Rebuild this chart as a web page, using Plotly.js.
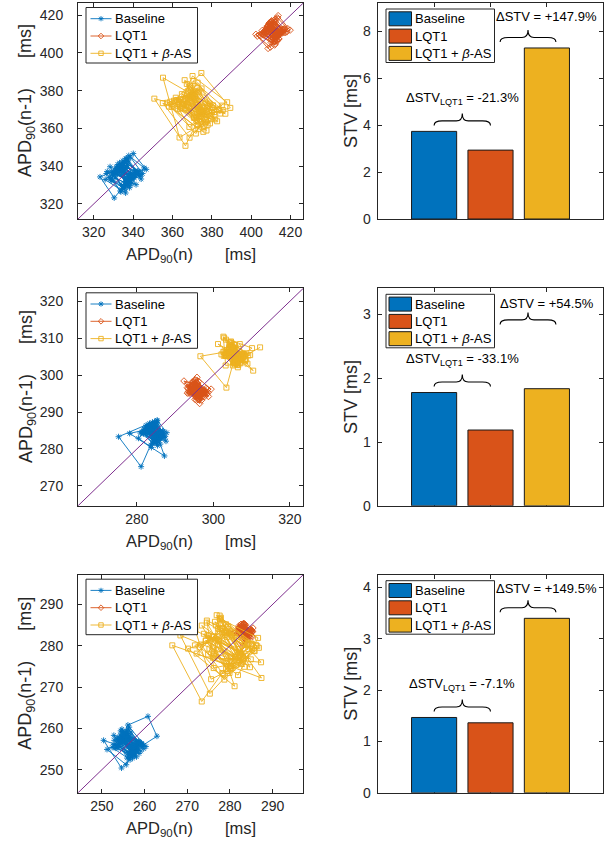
<!DOCTYPE html>
<html>
<head>
<meta charset="utf-8">
<script src="https://cdn.plot.ly/plotly-3.0.1.min.js"></script>
<style>html,body{margin:0;padding:0;background:#fff;}#chart{width:613px;height:849px;}</style>
</head>
<body>
<div id="chart"></div>
<script>
// ---------------- DATA ----------------
const seriesNames = ['Baseline', 'LQT1', 'LQT1 + <i>β</i>-AS'];
const barCategories = [1, 2, 3];

// APD90 of consecutive beats (ms) — Poincaré plots use (APD(n), APD(n-1))
const apdTopBaseline = [335.2, 338.7, 331.4, 336.9, 341.8, 333.1, 328.6, 338.2, 334.7, 343.9, 336.3, 329.8, 334.1, 340.4, 337.2, 326.9, 333.5, 339.1, 345.6, 337.8, 331.7, 336.4, 341.2, 333.9, 327.8, 335.6, 342.7, 337.1, 330.9, 339.4, 334.3, 323.2, 330.4, 336.1, 344.8, 338.6, 332.8, 337.5, 340.9, 332.2, 328.9, 335.8, 338.3, 346.7, 340.1, 333.6, 330.7, 337.3, 342.9, 334.8, 329.6, 338.4, 332.9, 325.8, 336.2, 339.8, 333.7, 339.2, 331.8, 336.7, 334.9,
  338.9, 332.4, 336.8, 330.2, 341.5, 335.3, 338.1, 333.2, 344.1, 336.6, 331.1, 337.9, 334.2, 339.7, 328.3, 334.6, 337.4, 342.3, 335.7, 332.1, 338.8, 336.1, 326.4, 333.8, 340.6, 336.9, 334.1, 339.6, 331.5, 335.9, 343.2, 337.6, 333.1, 336.4, 329.2, 335.1, 340.2, 334.5, 337.8, 332.6];
const apdTopLQT1 = [411.3, 413.8, 408.2, 412.6, 416.1, 409.7, 406.9, 413.2, 410.8, 417.4, 411.9, 405.6, 410.2, 414.7, 408.9, 403.1, 409.8, 412.9, 418.6, 413.4, 407.7, 411.1, 415.9, 409.2, 404.8, 412.3, 416.8, 410.6, 407.4, 414.1, 409.9, 402.4, 408.6, 412.1, 419.8, 413.7, 408.1, 410.9, 415.2, 409.5, 406.2, 411.8, 414.3, 408.7, 412.8, 417.1, 410.4, 406.8, 410.1, 414.6, 411.7, 407.9, 411.4, 415.6, 409.1, 413.1, 410.3, 405.9, 412.2, 410.7, 413.5,
  409.4, 414.2, 411.1, 407.3, 412.7, 416.3, 410.2, 413.6, 408.4, 411.5, 415.1, 409.6, 404.2, 411.9, 414.9, 410.1, 412.4, 407.6, 413.9, 411.2, 418.1, 412.3, 409.3, 410.8, 414.4, 408.3, 412.9, 411.4, 406.4, 413.2, 410.6, 415.8, 411.6, 409.1, 413.3, 410.9, 416.7, 412.1, 408.6, 411.8];
const apdTopBetaAS = [371.8, 364.9, 379.6, 367.7, 374.2, 358.9, 377.3, 369.8, 385.6, 366.2, 373.4, 355.1, 368.7, 381.2, 374.8, 361.9, 377.9, 370.6, 363.8, 382.7, 368.9, 375.8, 350.8, 366.6, 373.9, 387.8, 370.2, 362.7, 379.1, 371.6, 358.2, 375.7, 367.9, 384.3, 372.8, 365.6, 370.9, 389.4, 374.7, 360.8, 368.6, 380.1, 373.6, 357.3, 371.9, 378.2, 364.8, 381.7, 369.6, 376.3, 361.7, 372.7, 367.8, 386.9, 355.2, 363.6, 377.1, 368.8, 373.8, 365.7, 371.2,
  377.6, 366.1, 372.3, 380.6, 369.2, 375.1, 362.4, 374.4, 370.1, 383.6, 367.3, 376.8, 371.4, 359.6, 373.2, 378.9, 368.2, 375.4, 364.1, 372.1, 385.1, 370.7, 366.8, 379.4, 373.1, 361.2, 376.1, 369.4, 374.9, 367.1, 381.3, 372.6, 365.3, 378.4, 370.3, 374.1, 363.2, 376.9, 371.5, 368.3];

const apdMidBaseline = [284.1, 285.9, 282.3, 285.2, 283.4, 286.8, 284.3, 281.6, 285.1, 283.2, 286.2, 284.6, 282.1, 287.6, 285.3, 282.9, 280.4, 283.8, 286.3, 283.1, 285.4, 281.9, 284.7, 286.9, 283.3, 275.2, 281.1, 283.6, 285.2, 284.2, 286.4, 282.4, 284.8, 283.1, 287.1, 285.2, 282.2, 284.5, 281.3, 286.1, 283.7, 285.6, 284.2, 278.1, 287.2, 284.1, 282.8, 286.2, 285.3, 281.9, 284.4, 286.6, 283.2, 285.1, 284.3, 280.9, 285.4, 283.3, 284.6, 282.7,
  285.7, 283.1, 286.5, 284.2, 282.6, 285.4, 283.8, 286.9, 284.1, 281.7, 285.2, 283.4, 287.4, 284.6, 282.3, 285.8, 283.6, 284.9, 286.1, 282.9, 284.3, 285.6, 283.2, 286.4, 284.7, 281.4, 284.1, 285.9, 283.3, 284.8, 286.7, 283.9, 285.1, 282.5, 284.4, 287.8, 285.3, 283.7, 284.9, 283.5];
const apdMidLQT1 = [295.4, 296.8, 294.1, 296.2, 295.1, 297.9, 294.6, 296.3, 293.4, 295.2, 297.1, 295.8, 294.2, 298.7, 295.3, 296.6, 293.2, 295.6, 297.3, 294.4, 296.1, 298.4, 292.3, 296.4, 298.1, 295.5, 293.9, 296.9, 295.1, 293.6, 296.2, 299.4, 295.7, 297.2, 294.3, 296.5, 294.9, 298.3, 296.1, 294.2, 295.3, 297.4, 293.3, 296.3, 295.4, 294.1, 297.6, 295.9, 294.8, 298.2, 294.5, 296.4, 295.1, 297.3, 293.8, 295.6, 296.7, 293.7, 296.1, 295.2,
  296.9, 294.3, 295.8, 297.5, 294.7, 296.1, 295.3, 298.6, 295.1, 293.9, 296.4, 295.2, 297.1, 294.6, 295.9, 296.8, 294.2, 295.4, 297.8, 295.6, 293.5, 296.3, 294.9, 296.6, 295.4, 298.1, 294.8, 296.2, 295.1, 293.2, 296.9, 295.5, 294.4, 297.2, 295.8, 296.4, 294.5, 295.7, 297.6, 295.3];
const apdMidBetaAS = [305.2, 303.4, 306.9, 304.1, 306.3, 302.6, 305.1, 308.2, 304.3, 306.1, 303.2, 305.4, 307.3, 310.1, 302.8, 306.2, 303.6, 305.3, 308.1, 305.6, 302.1, 306.4, 304.2, 307.1, 305.3, 303.1, 308.9, 304.4, 306.6, 305.1, 296.6, 303.4, 305.2, 307.6, 304.1, 308.4, 306.9, 305.2, 303.3, 306.2, 304.3, 308.4, 301.2, 310.4, 302.6, 303.2, 307.1, 304.2, 305.4, 309.6, 303.3, 306.1, 305.2, 304.4, 307.2, 305.3, 303.1, 306.3, 304.1,
  306.2, 303.8, 305.7, 307.9, 304.6, 306.8, 303.5, 305.9, 308.6, 304.8, 306.4, 302.9, 305.6, 307.3, 304.2, 306.9, 305.1, 303.7, 308.3, 305.4, 304.1, 306.7, 305.3, 309.1, 304.6, 306.1, 303.4, 305.8, 307.7, 304.9, 306.3, 305.2, 302.7, 306.5, 304.7, 307.4, 305.6, 303.9, 306.6, 304.8, 307.5, 312.2];

const apdBotBaseline = [256.2, 258.1, 254.8, 257.3, 253.9, 258.7, 256.1, 252.8, 257.2, 255.1, 258.3, 255.9, 259.8, 254.7, 257.4, 253.6, 256.3, 259.1, 256.8, 254.9, 251.2, 255.7, 258.2, 254.6, 257.1, 252.9, 256.4, 259.3, 255.8, 253.7, 257.2, 254.9, 258.1, 262.9, 260.8, 256.1, 253.8, 257.3, 255.6, 259.2, 254.7, 257.1, 250.4, 254.6, 258.2, 255.9, 253.4, 257.3, 255.1, 259.8, 256.2, 258.3, 252.8, 255.9, 257.1, 254.8, 258.2, 255.7, 253.9, 256.8,
  255.3, 257.8, 254.1, 256.9, 258.6, 255.2, 253.3, 257.6, 256.2, 259.4, 254.4, 256.7, 258.9, 255.4, 252.4, 256.6, 258.4, 254.3, 257.9, 255.6, 260.3, 256.4, 254.2, 257.7, 255.3, 253.1, 258.1, 256.3, 254.5, 259.1, 255.8, 257.4, 253.6, 256.5, 258.8, 255.1, 257.2, 254.4, 256.9, 255.5];
const apdBotLQT1 = [283.1, 284.2, 282.4, 283.6, 284.9, 282.2, 283.9, 283.2, 281.4, 284.1, 283.3, 285.2, 282.6, 283.4, 284.3, 282.1, 283.5, 285.1, 283.2, 282.3, 284.4, 283.1, 280.9, 283.6, 284.5, 282.2, 285.3, 283.4, 284.1, 282.5, 283.3, 284.6, 283.1, 279.8, 282.9, 284.2, 282.4, 285.1, 283.6, 284.3, 282.1, 283.2, 284.4, 283.3, 282.2, 284.3, 285.4, 283.2, 281.9, 283.4,
  284.1, 282.7, 283.8, 285.1, 282.9, 284.4, 283.1, 281.8, 283.9, 284.7, 282.6, 283.5, 285.3, 283.2, 282.4, 284.3, 283.6, 284.9, 282.8, 283.7, 284.2, 282.3, 283.8, 285.0, 283.4, 282.1, 284.5, 283.3, 284.0, 282.9];
const apdBotBetaAS = [279.2, 282.1, 276.3, 280.4, 284.1, 277.2, 281.3, 274.4, 279.1, 285.2, 278.3, 282.4, 275.1, 280.2, 286.1, 274.6, 276.2, 283.1, 280.3, 273.2, 278.4, 282.2, 277.1, 276.0, 287.3, 277.6, 276.3, 279.2, 284.3, 278.1, 272.2, 287.4, 276.9, 283.2, 279.3, 275.2, 280.1, 266.5, 273.4, 278.2, 282.3, 276.1, 280.4, 285.2, 279.1, 277.3, 281.2, 274.3, 280.2, 283.4, 278.1, 276.4, 282.1, 279.3, 270.2, 281.1, 277.4, 280.3, 284.1, 278.2,
  282.6, 274.8, 284.7, 279.6, 272.9, 281.9, 286.6, 277.6, 283.7, 271.9, 275.6, 282.7, 278.8, 285.6, 274.6, 280.6, 284.9, 276.7, 282.9, 273.9, 279.5, 286.8, 277.9, 274.9, 283.4, 280.1, 271.8, 278.7, 285.8, 276.5, 282.5, 268.4, 275.3, 281.5, 276.7, 284.9, 273.4, 279.9, 286.4, 277.7];

// Short-term variability (ms)
const stvTop = [3.74, 2.94, 7.30];
const stvMid = [1.776, 1.188, 1.836];
const stvBot = [1.468, 1.364, 3.40];
const deltaLQT1Text = ['-21.3%', '-33.1%', '-7.1%'];
const deltaBetaText = ['+147.9%', '+54.5%', '+149.5%'];

// ---------------- STYLE / LAYOUT ----------------
const colors = ['#0072BD', '#D95319', '#EDB120'];
const symbols = ['asterisk-open', 'diamond-open', 'square-open'];
const W = 613, H = 849;
const px = v => v / W;
const py = v => 1 - v / H;
const FONT = 'Liberation Sans, Arial, Helvetica, sans-serif';
const INK = '#262626';

const leftDom = [px(78), px(303.3)];
const rightDom = [px(377.7), px(603.3)];
const rowsPx = [[3, 219], [288.3, 505.8], [574.7, 792.8]];

const rows = [
  {apd: [apdTopBaseline, apdTopLQT1, apdTopBetaAS], stv: stvTop, range: [312, 426.5], dtick: 20, ytick: 20, barRange: [0, 9.22], barDtick: 2, braceLevel: null, brace2Shift: 31},
  {apd: [apdMidBaseline, apdMidLQT1, apdMidBetaAS], stv: stvMid, range: [264.6, 323.5], dtick: 20, ytick: 10, barRange: [0, 3.41], barDtick: 1, braceLevel: 2.75, brace2Shift: 27},
  {apd: [apdBotBaseline, apdBotLQT1, apdBotBetaAS], stv: stvBot, range: [244.4, 297.2], dtick: 10, ytick: 10, barRange: [0, 4.25], barDtick: 1, braceLevel: null, brace2Shift: 30}
];

const axBase = {
  showline: true, linecolor: INK, linewidth: 1, mirror: 'ticks',
  ticks: 'inside', ticklen: 4, tickwidth: 1, tickcolor: INK,
  showgrid: false, zeroline: false,
  tickfont: {family: FONT, size: 14, color: INK}, fixedrange: true
};

const traces = [];
const layout = {
  width: W, height: H,
  margin: {l: 0, r: 0, t: 0, b: 0},
  paper_bgcolor: '#fff', plot_bgcolor: '#fff',
  font: {family: FONT, color: INK},
  showlegend: false, barmode: 'overlay',
  annotations: [], shapes: []
};

const pxPerBarUnit = (603.3 - 377.7) / 4;

function bracePath(w) {
  const t = 6, h = 10.5, p = 18, r = 8, m = w / 2, q = 6;
  return `M0,${t} Q0,${h} ${r},${h} L${m - q},${h} Q${m},${h} ${m},${p} ` +
         `Q${m},${h} ${m + q},${h} L${w - r},${h} Q${w},${h} ${w},${t}`;
}

// legend marker glyphs (pixel paths)
const glyphPaths = [
  'M-2.6,0 L2.6,0 M0,-2.6 L0,2.6 M-1.9,-1.9 L1.9,1.9 M-1.9,1.9 L1.9,-1.9',
  'M0,-2.8 L2.8,0 L0,2.8 L-2.8,0 Z',
  'M-2.2,-2.2 L2.2,-2.2 L2.2,2.2 L-2.2,2.2 Z'
];

function legendText(x, y, text) {
  layout.annotations.push({
    xref: 'paper', yref: 'paper', x: px(x), y: py(y), xanchor: 'left', yanchor: 'middle',
    text: text, showarrow: false, borderpad: 0,
    font: {family: FONT, size: 13, color: '#000'}
  });
}

function lineLegend(top) {
  layout.shapes.push({type: 'rect', xref: 'paper', yref: 'paper', x0: px(86), x1: px(197.5), y0: py(top + 4.5), y1: py(top + 60),
    line: {color: INK, width: 1}, fillcolor: '#fff', layer: 'above'});
  seriesNames.forEach((name, s) => {
    const yy = top + 15.7 + 17.3 * s;
    layout.shapes.push({type: 'line', xref: 'paper', yref: 'paper', x0: px(90.5), x1: px(111.5), y0: py(yy), y1: py(yy),
      line: {color: colors[s], width: 0.9}, layer: 'above'});
    layout.shapes.push({type: 'path', xref: 'paper', yref: 'paper', xsizemode: 'pixel', ysizemode: 'pixel',
      xanchor: px(101), yanchor: py(yy), path: glyphPaths[s], line: {color: colors[s], width: 0.9}, layer: 'above'});
    legendText(114, yy, name);
  });
}

function barLegend(top) {
  layout.shapes.push({type: 'rect', xref: 'paper', yref: 'paper', x0: px(386), x1: px(494.5), y0: py(top + 6), y1: py(top + 59.5),
    line: {color: INK, width: 1}, fillcolor: '#fff', layer: 'above'});
  seriesNames.forEach((name, s) => {
    const yy = top + 15.8 + 17.3 * s;
    layout.shapes.push({type: 'rect', xref: 'paper', yref: 'paper', x0: px(389), x1: px(411.5), y0: py(yy - 7), y1: py(yy + 7),
      line: {color: '#1a1a1a', width: 1}, fillcolor: colors[s], layer: 'above'});
    legendText(414, yy, name);
  });
}

rows.forEach((row, r) => {
  const li = 2 * r + 1, ri = 2 * r + 2;
  const xl = 'x' + (li === 1 ? '' : li), yl = 'y' + (li === 1 ? '' : li);
  const xr = 'x' + ri, yr = 'y' + ri;
  const [top, bot] = rowsPx[r];
  const dom = [py(bot), py(top)];

  // Poincaré traces
  row.apd.forEach((seq, s) => {
    traces.push({
      type: 'scatter', mode: 'lines+markers',
      x: seq.slice(1), y: seq.slice(0, -1),
      xaxis: xl, yaxis: yl, name: seriesNames[s],
      line: {color: colors[s], width: 0.9},
      marker: {symbol: symbols[s], size: 5, color: colors[s], line: {color: colors[s], width: 0.9}},
      hoverinfo: 'skip'
    });
  });
  // identity line
  traces.push({
    type: 'scatter', mode: 'lines', x: row.range, y: row.range,
    xaxis: xl, yaxis: yl, hoverinfo: 'skip', name: 'identity',
    line: {color: '#7E2F8E', width: 1}
  });

  // Bars
  row.stv.forEach((v, s) => {
    traces.push({
      type: 'bar', x: [barCategories[s]], y: [v], width: 0.8,
      xaxis: xr, yaxis: yr, name: seriesNames[s],
      marker: {color: colors[s], line: {color: '#1a1a1a', width: 1}},
      hoverinfo: 'skip'
    });
  });

  const kx = li === 1 ? 'xaxis' : 'xaxis' + li, ky = li === 1 ? 'yaxis' : 'yaxis' + li;
  layout[kx] = Object.assign({}, axBase, {domain: leftDom, anchor: yl, range: row.range, dtick: row.dtick, tick0: 0, ticklabelstandoff: 0});
  layout[ky] = Object.assign({}, axBase, {domain: dom, anchor: xl, range: row.range, dtick: row.ytick, tick0: 0, ticklabelstandoff: 11});
  layout['xaxis' + ri] = Object.assign({}, axBase, {domain: rightDom, anchor: yr, range: [0, 4], tickvals: barCategories, showticklabels: false, layer: 'below traces'});
  layout['yaxis' + ri] = Object.assign({}, axBase, {domain: dom, anchor: xr, range: row.barRange, dtick: row.barDtick, tick0: 0, ticklabelstandoff: 3, layer: 'below traces'});

  // legends (drawn as boxes + samples)
  lineLegend(top);
  barLegend(top);

  // axis titles
  const midY = (top + bot) / 2;
  layout.annotations.push({
    xref: 'paper', yref: 'paper', x: px(190.7), y: py(bot + 36), xanchor: 'center', yanchor: 'middle',
    text: 'APD<sub>90</sub>(n)\u00a0\u00a0\u00a0\u00a0\u00a0\u00a0\u00a0[ms]', showarrow: false,
    font: {family: FONT, size: 16.5, color: INK}
  });
  layout.annotations.push({
    xref: 'paper', yref: 'paper', x: px(27), y: py(midY - 10), xanchor: 'center', yanchor: 'middle',
    text: 'APD<sub>90</sub>(n-1)\u00a0\u00a0\u00a0\u00a0\u00a0\u00a0[ms]', showarrow: false, textangle: -90,
    font: {family: FONT, size: 18, color: INK}
  });
  layout.annotations.push({
    xref: 'paper', yref: 'paper', x: px(351), y: py(midY), xanchor: 'center', yanchor: 'middle',
    text: 'STV [ms]', showarrow: false, textangle: -90,
    font: {family: FONT, size: 18, color: INK}
  });

  // braces + percentage labels
  const lvl1 = Math.max(row.stv[0], row.stv[1]);
  const lvl2 = row.braceLevel === null ? row.stv[2] : row.braceLevel;
  const b1 = [barCategories[0], barCategories[1]];
  const b2 = [barCategories[1] + 0.17, barCategories[2] + 0.16];
  [[b1, lvl1], [b2, lvl2]].forEach(([span, lvl]) => {
    layout.shapes.push({
      type: 'path', xref: xr, yref: yr, xsizemode: 'pixel', ysizemode: 'pixel',
      xanchor: span[0], yanchor: lvl, path: bracePath((span[1] - span[0]) * pxPerBarUnit),
      line: {color: '#000', width: 1.1}, layer: 'above'
    });
  });
  layout.annotations.push({
    xref: xr, yref: yr, x: (b1[0] + b1[1]) / 2, y: lvl1, yshift: 33, xanchor: 'center', yanchor: 'middle',
    text: 'ΔSTV<sub>LQT1</sub> = ' + deltaLQT1Text[r], showarrow: false,
    font: {family: FONT, size: 13, color: '#000'}
  });
  layout.annotations.push({
    xref: xr, yref: yr, x: barCategories[2], y: lvl2, yshift: row.brace2Shift, xanchor: 'center', yanchor: 'middle',
    text: 'ΔSTV = ' + deltaBetaText[r], showarrow: false,
    font: {family: FONT, size: 13, color: '#000'}
  });
});

Plotly.newPlot('chart', traces, layout, {staticPlot: true, displayModeBar: false});
</script>
</body>
</html>
